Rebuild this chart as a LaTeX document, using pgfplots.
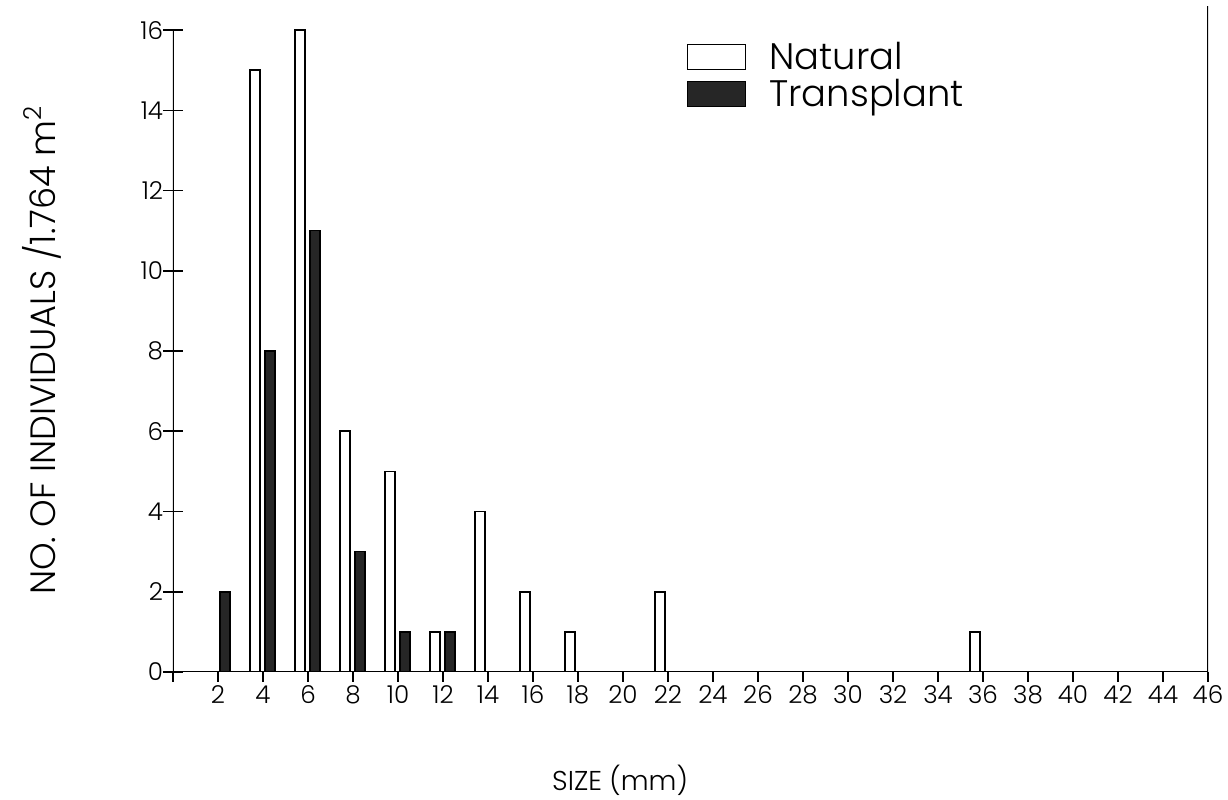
\documentclass[border=0pt]{standalone}
\usepackage{fontspec}
\setmainfont{Poppins}[UprightFont={* Light}]
\usepackage{pgfplots}
\pgfplotsset{compat=1.18}
\pgfplotsset{boxlegend/.style={legend image code/.code={%
    \draw[##1] (0cm,-0.25cm) rectangle (1.16cm,0.25cm);
    \path (1.55cm,0cm);}}}

% size classes (mm), counts per 1.764 m^2
\pgfplotstableread{
x  n
4  15
6  16
8  6
10 5
12 1
14 4
16 2
18 1
22 2
36 1
}\natural
\pgfplotstableread{
x  n
2  2
4  8
6  11
8  3
10 1
12 1
}\transplant

\begin{document}
\begin{tikzpicture}
\begin{axis}[
    scale only axis,
    width=20.7cm, height=13.32cm,
    xmin=0, xmax=46, ymin=0, ymax=16.6,
    axis line style={draw=none},
    xtick={0,2,...,46},
    xticklabels={,2,4,6,8,10,12,14,16,18,20,22,24,26,28,30,32,34,36,38,40,42,44,46},
    ytick={0,2,...,16},
    xtick pos=lower, ytick pos=left,
    xtick align=outside, ytick align=center,
    x tick style={/pgfplots/major tick length=0.2cm, black, line width=0.9pt},
    y tick style={/pgfplots/major tick length=0.4cm, black, line width=0.9pt},
    tick label style={font=\fontsize{14}{16}\selectfont},
    /pgf/number format/assume math mode=true,
    xlabel={SIZE (mm)},
    ylabel={NO. OF INDIVIDUALS /1.764 m\textsuperscript{2}},
    xlabel style={font=\fontsize{15.5}{18}\selectfont, at={(axis description cs:0.432,-0.162)}, anchor=center},
    ylabel style={font=\fontsize{20}{24}\selectfont, at={(axis description cs:-0.127,0.483)}, anchor=center},
    legend style={at={(axis description cs:0.491,0.957)}, anchor=north west,
        draw=none, fill=none, font=\fontsize{21}{25}\selectfont},
    legend cell align=left,
]
\addplot[ybar, bar width=0.45, bar shift=-0.35, draw=black, line width=0.9pt, fill=white, boxlegend]
    table[x=x, y=n] {\natural};
\addlegendentry{Natural}
\addplot[ybar, bar width=0.45, bar shift=0.32, draw=black, line width=0.9pt, fill=black!85, boxlegend]
    table[x=x, y=n] {\transplant};
\addlegendentry{Transplant}

\draw[line width=0.9pt] (axis cs:0,16) -- (axis cs:0,0) -- (axis cs:46,0) -- (axis cs:46,16.6);
\end{axis}
\pgfresetboundingbox
\path[use as bounding box] (-3.46,-2.56) rectangle (21.1,13.44);
\end{tikzpicture}
\end{document}
